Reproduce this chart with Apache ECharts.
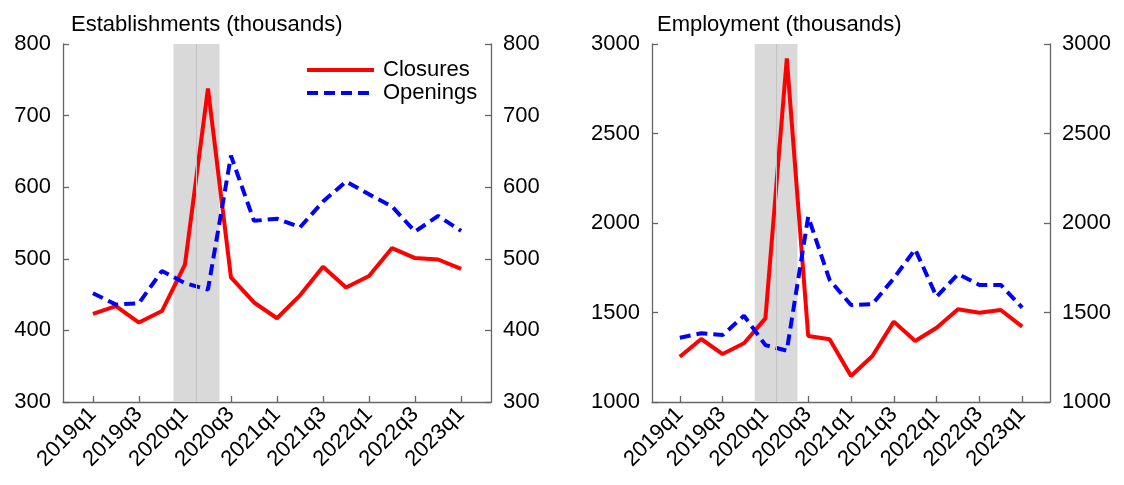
<!DOCTYPE html>
<html>
<head>
<meta charset="utf-8">
<script src="https://cdn.jsdelivr.net/npm/echarts@6/dist/echarts.min.js"></script>
<style>
html,body{margin:0;padding:0;background:#fff;}
#c{width:1124px;height:485px;}
</style>
</head>
<body>
<div id="c"></div>
<script>
const quarters = ['2019q1','2019q2','2019q3','2019q4','2020q1','2020q2','2020q3','2020q4',
  '2021q1','2021q2','2021q3','2021q4','2022q1','2022q2','2022q3','2022q4','2023q1'];
const estClosures = [423,434,411,427,492,738,474,439,417,449,489,460,476,515,501,499,486];
const estOpenings = [452,436,438,483,466,457,644,553,556,544,580,608,590,573,538,560,539];
const empClosures = [1253,1352,1268,1328,1467,2920,1369,1350,1145,1257,1449,1341,1415,1518,1499,1514,1421];
const empOpenings = [1359,1384,1374,1482,1318,1287,2035,1682,1542,1547,1691,1853,1588,1715,1654,1654,1527];
const tickIdx = [0,2,4,6,8,10,12,14,16];
const estTicks = [300,400,500,600,700,800];
const empTicks = [1000,1500,2000,2500,3000];
const recession = [3.5, 4.5, 5.5];

const FONT = 'Liberation Sans, Arial, sans-serif';
const FS = 22;
const AX = '#666666';
const toPairs = arr => arr.map((v,i)=>[i,v]);

function xAxis(gi){
  return {
    type:'value', gridIndex:gi, min:-1.3, max:17.3,
    splitLine:{show:false},
    axisLine:{show:true, onZero:false, lineStyle:{color:AX, width:1.3}},
    axisTick:{show:true, inside:true, length:6, customValues:tickIdx, lineStyle:{color:AX, width:1.3}},
    axisLabel:{show:true, customValues:tickIdx, rotate:45, margin:9, fontSize:FS, color:'#000', fontFamily:FONT,
      formatter:v=>quarters[Math.round(v)]}
  };
}
function yAxis(gi, ticks, pos){
  return {
    type:'value', gridIndex:gi, position:pos, min:ticks[0], max:ticks[ticks.length-1],
    interval:ticks[1]-ticks[0],
    splitLine:{show:false},
    axisLine:{show:true, onZero:false, lineStyle:{color:AX, width:1.3}},
    axisTick:{show:true, inside:true, length:6, lineStyle:{color:AX, width:1.3}},
    axisLabel:{show:true, fontSize:FS, color:'#000', fontFamily:FONT, margin:12, formatter:v=>String(v)}
  };
}
function shade(xi, yi){
  return {
    type:'line', xAxisIndex:xi, yAxisIndex:yi, data:[], z:1, silent:true,
    markArea:{silent:true, itemStyle:{color:'#d9d9d9'},
      data:[[{xAxis:recession[0]},{xAxis:recession[1]}],[{xAxis:recession[1]},{xAxis:recession[2]}]]},
    markLine:{silent:true, symbol:'none', label:{show:false},
      lineStyle:{color:'#c4c4c4', width:1, type:'solid'},
      data:[{xAxis:recession[1]}]}
  };
}
function line(name, xi, yi, data, dashed){
  return {
    name, type:'line', xAxisIndex:xi, yAxisIndex:yi, data:toPairs(data), z:3,
    symbol:'none', showSymbol:false, animation:false,
    lineStyle: dashed ? {color:'#0000ff', width:4, type:[11,6]} : {color:'#ff0000', width:4, type:'solid'},
    itemStyle:{color: dashed?'#0000ff':'#ff0000'}
  };
}

const chart = echarts.init(document.getElementById('c'), null, {renderer:'canvas'});
chart.setOption({
  animation:false,
  backgroundColor:'#fff',
  title:[
    {text:'Establishments (thousands)', left:66, top:9, textStyle:{fontSize:FS, fontWeight:'normal', color:'#000', fontFamily:FONT}},
    {text:'Employment (thousands)', left:652, top:9, textStyle:{fontSize:FS, fontWeight:'normal', color:'#000', fontFamily:FONT}}
  ],
  legend:{
    data:['Closures','Openings'], orient:'vertical', left:300, top:54, itemGap:1,
    itemWidth:67, itemHeight:20,
    itemStyle:{opacity:0, color:'transparent', borderWidth:0},
    lineStyle:{width:4},
    textStyle:{fontSize:FS, color:'#000', fontFamily:FONT, padding:[0,0,0,4]},
    selectedMode:false
  },
  grid:[
    {left:63, top:44, width:428, height:358, containLabel:false},
    {left:652, top:44, width:398, height:358, containLabel:false}
  ],
  xAxis:[xAxis(0), xAxis(1)],
  yAxis:[yAxis(0, estTicks,'left'), yAxis(0, estTicks,'right'), yAxis(1, empTicks,'left'), yAxis(1, empTicks,'right')],
  series:[
    shade(0,0),
    shade(1,2),
    line('Closures',0,0,estClosures,false),
    line('Openings',0,0,estOpenings,true),
    line('Closures',1,2,empClosures,false),
    line('Openings',1,2,empOpenings,true)
  ]
});
</script>
</body>
</html>
